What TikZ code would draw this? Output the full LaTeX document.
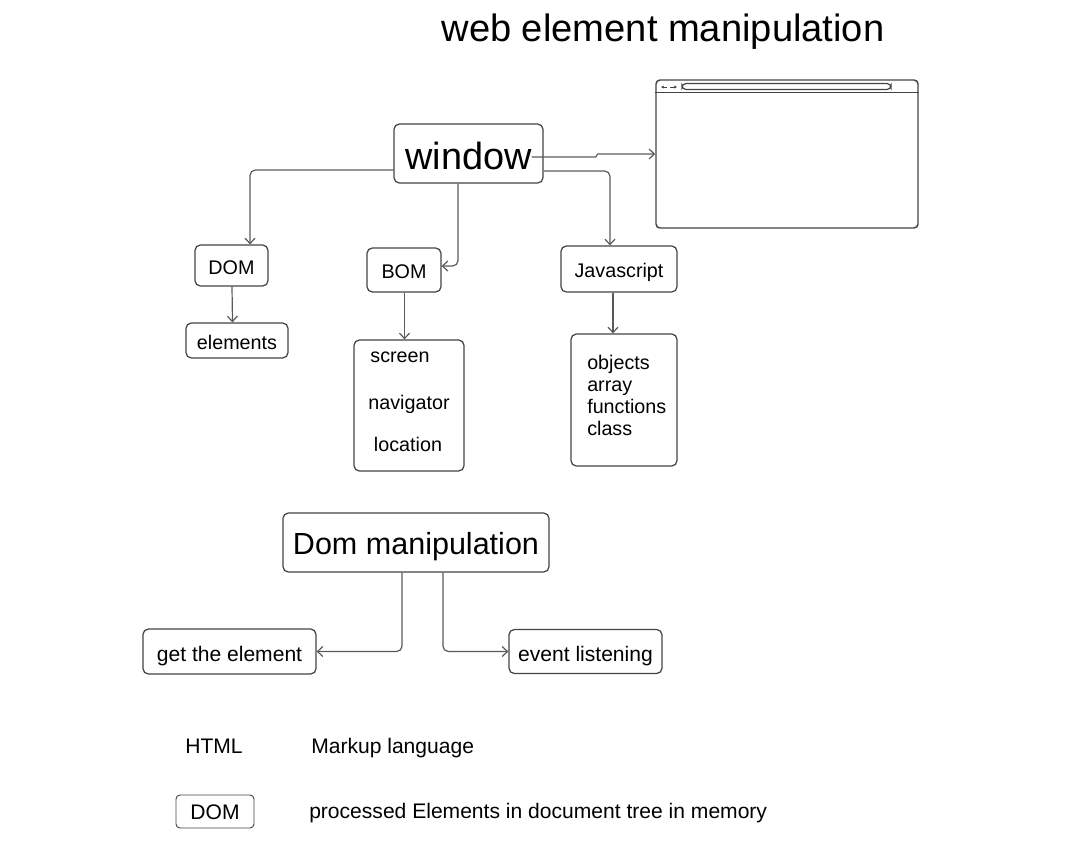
\documentclass[tikz,border=0pt]{standalone}
\usepackage{fontspec}
\setmainfont{Liberation Sans}
\usepackage{tikz}
\usepackage{xcolor}
\usetikzlibrary{arrows.meta,calc,positioning}
\definecolor{BoxGray}{HTML}{444444}
\definecolor{LinkGray}{HTML}{5A5A5A}

\begin{document}
\begin{tikzpicture}[
    x=0.75pt,y=-0.75pt,
    box/.style={draw=BoxGray,line width=0.95pt,rounded corners=4pt,inner sep=0pt,align=center,text depth=0pt},
    lbl/.style={font=\fontsize{14.8}{16.5}\selectfont},
    lblbig/.style={font=\fontsize{15.8}{18}\selectfont},
    boxs/.style={box,lbl,text height=13.4pt},
    boxb/.style={box,lblbig,text height=14.3pt},
    link/.style={->,draw=LinkGray,line width=0.9pt,rounded corners=4pt},
    >={Straight Barb[length=4pt,width=7.5pt]}
  ]
  \useasboundingbox (0,0) rectangle (1068,844);

  \node[font=\fontsize{28.6}{32}\selectfont] (title) at (663,32) {web element manipulation};

  % window and the browser it stands for
  \node[box,minimum width=111.75pt,minimum height=44.25pt,font=\fontsize{28.4}{32}\selectfont,text height=24.5pt] (window) at (468.5,153.5) {window};
  \node[box,line width=1.1pt,rounded corners=3pt,minimum width=196.5pt,minimum height=111pt] (browser) at (787,154) {};
  \draw[BoxGray,line width=0.9pt] ($(browser.north west)+(0,13)$) -- ($(browser.north east)+(0,13)$);
  \draw[BoxGray,line width=0.9pt,rounded corners=3pt] (682,83.5) rectangle (891,89.5);
  \draw[BoxGray,line width=0.7pt,-{Latex[length=2pt,width=2.5pt]}] (667,87) -- (661,87);
  \draw[BoxGray,line width=0.7pt,-{Latex[length=2pt,width=2.5pt]}] (670,87) -- (677,87);

  % first level
  \node[boxs,minimum width=54.75pt,minimum height=30.75pt] (dom) at (231.5,265.5) {DOM};
  \node[boxs,minimum width=55.5pt,minimum height=33pt] (bom) at (404,270) {BOM};
  \node[boxs,minimum width=87pt,minimum height=34.5pt] (js) at (619,269) {Javascript};

  \node[boxs,minimum width=76.5pt,minimum height=26.25pt] (elements) at (237,340.5) {elements};
  \node[box,minimum width=82.5pt,minimum height=98.25pt] (bomlist) at (409,405.5) {};
  \node[lbl] (screen) at (400,357) {screen};
  \node[lbl] (navigator) at (409,404) {navigator};
  \node[lbl] (location) at (408,444.5) {location};
  \node[box,minimum width=79.5pt,minimum height=99pt] (jslist) at (624,400) {};
  \node[lbl,align=left,anchor=west,inner sep=0pt] (jsitems) at (587,395) {objects\\array\\functions\\class};

  \draw[link] ($(window.west)+(0,16.5)$) -| ($(dom.north)+(18.5,0)$);
  \draw[link] ($(window.south)+(-10.5,0)$) |- ($(bom.east)+(0,-4)$);
  \draw[link] ($(window.east)+(0,17.5)$) -| ($(js.north)+(-9,0)$);
  \draw[link,rounded corners=0pt] ($(window.east)+(-12,3.5)$) -- ++(64,0) -- ++(2,-3) -- (browser.west);
  \draw[link] ($(dom.south)+(0.5,0)$) -- ($(elements.north)+(-4.5,0)$);
  \draw[link] ($(bom.south)+(0.5,0)$) -- ($(bomlist.north)+(-4.5,0)$);
  \draw[link] ($(js.south)+(-6,0)$) -- ($(jslist.north)+(-11,0)$);

  % dom manipulation
  \node[box,minimum width=199.5pt,minimum height=44.25pt,font=\fontsize{22.9}{26}\selectfont,text height=17.5pt] (dommanip) at (416,542.5) {Dom manipulation};
  \node[boxb,minimum width=129.75pt,minimum height=33.75pt] (getel) at (229.5,651.5) {get the element};
  \node[boxb,minimum width=114.75pt,minimum height=33pt] (event) at (585.5,651.5) {event listening};
  \draw[link] ($(dommanip.south)+(-14,0)$) |- (getel.east);
  \draw[link] ($(dommanip.south)+(27,0)$) |- (event.west);

  % legend
  \node[lblbig] (html) at (214,746) {HTML};
  \node[lblbig,anchor=west,inner sep=0pt] (htmltxt) at (311,748) {Markup language};
  \node[boxb,text height=12pt,line width=0.7pt,rounded corners=3pt,minimum width=58.5pt,minimum height=24.75pt] (domkey) at (215,811.5) {DOM};
  \node[lblbig,anchor=west,inner sep=0pt] (domtxt) at (309,813) {processed Elements in document tree in memory};
\end{tikzpicture}
\end{document}
